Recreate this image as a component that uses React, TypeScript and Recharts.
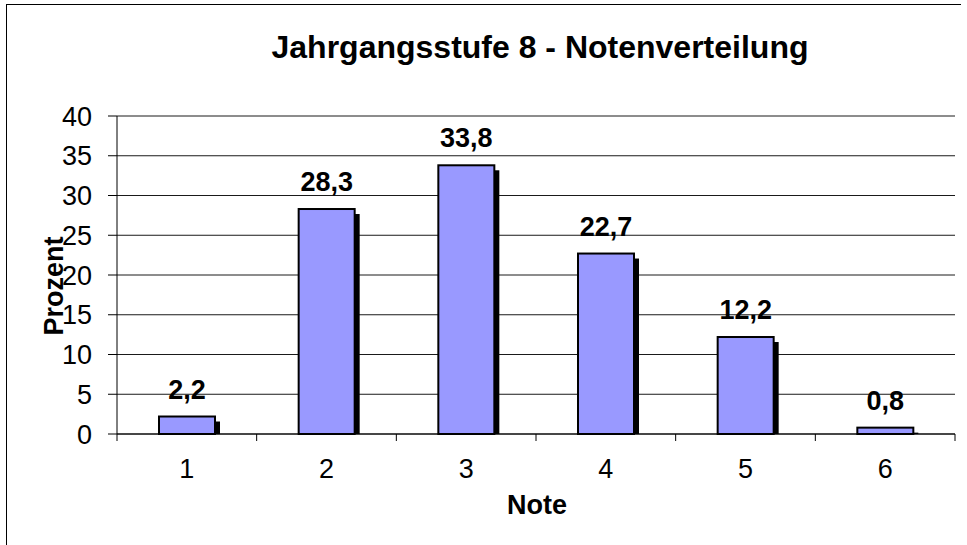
import { BarChart, Bar, XAxis, YAxis, CartesianGrid, LabelList } from 'recharts'

const notes = ['1', '2', '3', '4', '5', '6']
const percent = [2.2, 28.3, 33.8, 22.7, 12.2, 0.8]
const yTicks = [0, 5, 10, 15, 20, 25, 30, 35, 40]

const title = 'Jahrgangsstufe 8 - Notenverteilung'
const xTitle = 'Note'
const yTitle = 'Prozent'

const data = notes.map((note, i) => ({ note, value: percent[i] }))

const W = 967
const H = 545
const PLOT_LEFT = 117
const PLOT_TOP = 116
const PLOT_RIGHT = 955
const PLOT_BOTTOM = 434
const BAND = (PLOT_RIGHT - PLOT_LEFT) / notes.length
const FONT = '"Liberation Sans", Arial, sans-serif'

function ShadowBar(props: any) {
  const { x, y, width, height } = props
  return (
    <g>
      <rect x={x + 5} y={y + 5} width={width} height={Math.max(height - 5, 0)} fill="#000" />
      <rect x={x} y={y} width={width} height={height} fill="#9999FF" stroke="#000" strokeWidth={2} />
    </g>
  )
}

function NoteTick(props: any) {
  const { x, y, payload, index } = props
  const left = x - BAND / 2
  return (
    <g>
      <line x1={left} x2={left} y1={PLOT_BOTTOM} y2={PLOT_BOTTOM + 7} stroke="#000" />
      {index === notes.length - 1 && (
        <line x1={x + BAND / 2} x2={x + BAND / 2} y1={PLOT_BOTTOM} y2={PLOT_BOTTOM + 7} stroke="#000" />
      )}
      <text x={x} y={y} dy="0.71em" textAnchor="middle" fontSize={27} fontFamily={FONT} fill="#000">
        {payload.value}
      </text>
    </g>
  )
}

export default function App() {
  return (
    <div style={{ position: 'absolute', left: 0, top: 0, width: W, height: H, background: '#fff' }}>
      <svg width={W} height={H} style={{ position: 'absolute', left: 0, top: 0 }}>
        <line x1={6.5} x2={6.5} y1={4} y2={H} stroke="#000" />
        <line x1={6} x2={961} y1={4.5} y2={4.5} stroke="#000" />
        <text x={540} y={58} textAnchor="middle" fontSize={32} fontWeight="bold" fontFamily={FONT} fill="#000">
          {title}
        </text>
        <text x={537} y={514} textAnchor="middle" fontSize={27} fontWeight="bold" fontFamily={FONT} fill="#000">
          {xTitle}
        </text>
      </svg>
      <div style={{ position: 'absolute', left: 0, top: 0 }}>
        <BarChart
          width={W}
          height={H}
          data={data}
          margin={{ top: PLOT_TOP, right: W - PLOT_RIGHT, left: 0, bottom: 0 }}
        >
          <CartesianGrid vertical={false} stroke="#1a1a1a" strokeOpacity={1} />
          <XAxis
            dataKey="note"
            height={H - PLOT_BOTTOM}
            axisLine={{ stroke: '#000' }}
            tickLine={false}
            tickSize={0}
            tickMargin={25}
            tick={<NoteTick />}
            interval={0}
          />
          <XAxis xAxisId="top" orientation="top" height={0} tick={false} tickLine={false} axisLine={{ stroke: '#8c8c8c', strokeWidth: 2 }} />
          <YAxis
            domain={[0, 40]}
            ticks={yTicks}
            width={PLOT_LEFT}
            interval={0}
            axisLine={{ stroke: '#000' }}
            tickLine={{ stroke: '#000' }}
            tickSize={9}
            tickMargin={16}
            tick={{ fill: '#000', fontSize: 27, fontFamily: FONT }}
            label={{
              content: () => (
                <text
                  x={63}
                  y={286}
                  transform="rotate(-90, 63, 286)"
                  textAnchor="middle"
                  fontSize={27}
                  fontWeight="bold"
                  fontFamily={FONT}
                  fill="#000"
                >
                  {yTitle}
                </text>
              ),
            }}
          />
          <YAxis yAxisId="right" orientation="right" width={0} tick={false} tickLine={false} axisLine={{ stroke: '#8c8c8c', strokeWidth: 2 }} />
          <Bar dataKey="value" barSize={56} shape={<ShadowBar />} isAnimationActive={false}>
            <LabelList
              dataKey="value"
              position="top"
              offset={18}
              formatter={(v: any) => Number(v).toFixed(1).replace('.', ',')}
              style={{ fontSize: 27, fontWeight: 'bold', fontFamily: FONT, fill: '#000' }}
            />
          </Bar>
        </BarChart>
      </div>
    </div>
  )
}
